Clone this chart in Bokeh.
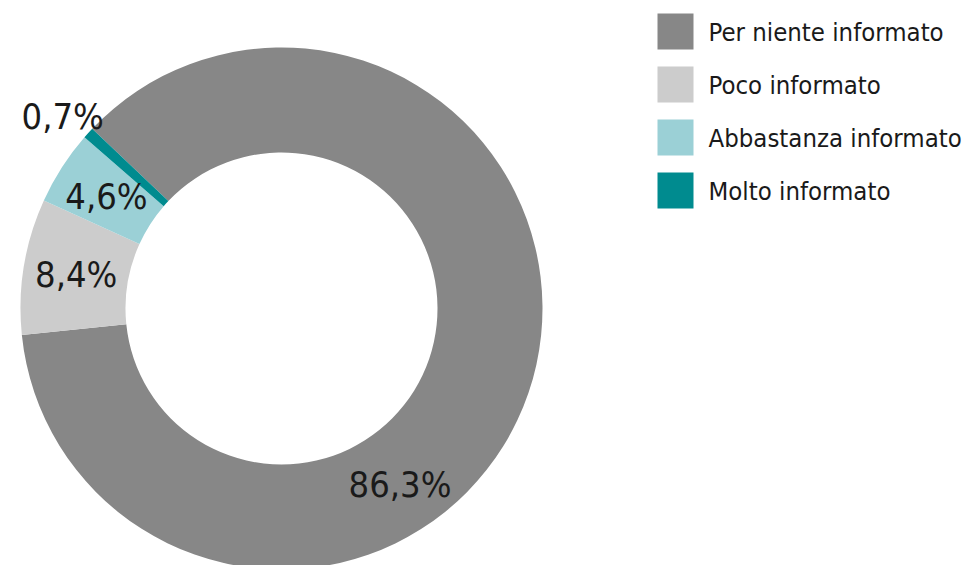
import math
from bokeh.plotting import figure
from bokeh.models import Range1d, ColumnDataSource
from bokeh.core.properties import value
from bokeh.embed import file_html
from bokeh.resources import INLINE

# ---- data ----
categories = ["Per niente informato", "Poco informato", "Abbastanza informato", "Molto informato"]
percent = [86.3, 8.4, 4.6, 0.7]
labels = ["86,3%", "8,4%", "4,6%", "0,7%"]
colors = ["#878787", "#cccccc", "#9bd0d6", "#008b8f"]

# ---- layout (pixels) ----
W, H = 968, 565
FONT = "'Liberation Sans Narrow', 'DejaVu Sans Condensed', 'Roboto Condensed', sans-serif"
cx, cy = 281, H - 308
r_out, r_in = 261, 156
start_deg = 136.5  # where first slice begins, going clockwise

total = sum(percent)
starts, ends, mids = [], [], []
a = math.radians(start_deg)
for v in percent:
    sweep = v / total * 2 * math.pi
    starts.append(a - sweep)
    ends.append(a)
    mids.append(a - sweep / 2)
    a -= sweep

p = figure(width=W, height=H, output_backend="svg", toolbar_location=None,
           x_range=Range1d(0, W), y_range=Range1d(0, H),
           min_border=0, outline_line_color=None)
p.axis.visible = False
p.grid.visible = False
p.background_fill_color = "white"

src = ColumnDataSource(dict(start=starts, end=ends, color=colors))
p.annular_wedge(x=cx, y=cy, inner_radius=r_in, outer_radius=r_out,
                start_angle="start", end_angle="end", color="color",
                line_color=None, direction="anticlock", source=src)

# label placement: angle and radius per slice (big slice label placed lower)
label_ang = [math.radians(-56), mids[1], mids[2], mids[3] + math.radians(1)]
label_rad = [212, 208, 208, 291]
lx = [cx + r * math.cos(t) for r, t in zip(label_rad, label_ang)]
ly = [cy + r * math.sin(t) for r, t in zip(label_rad, label_ang)]
p.text(x=lx, y=ly, text=labels, text_font=value(FONT), text_font_size="36px",
       text_align="center", text_baseline="middle", text_color="#1a1a1a")

# legend
sq = 36
lgx = 675
lgy = [H - 31 - 53 * i for i in range(len(categories))]
p.rect(x=[lgx] * len(categories), y=lgy, width=sq, height=sq, color=colors, line_color=None)
p.text(x=[708] * len(categories), y=lgy, text=categories, text_font=value(FONT),
       text_font_size="25.5px", text_baseline="middle", text_align="left", text_color="#1a1a1a")

open("out.html", "w").write(file_html(p, INLINE))
